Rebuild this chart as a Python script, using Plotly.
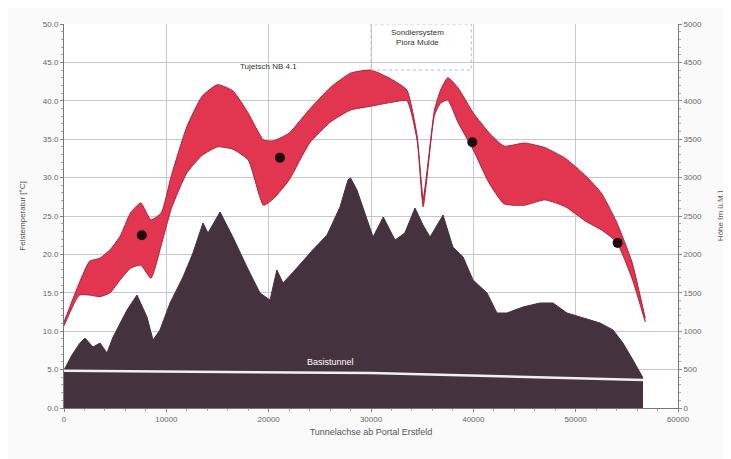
import plotly.graph_objects as go

# Tunnel chainage [m] for the temperature band
band_x = [0, 1500, 2500, 3500, 4500, 5500, 6500, 7500, 8500, 9500, 10500, 12000, 13500,
          15000, 16500, 18000, 19500, 20500, 22000, 24000, 26000, 28000, 30000, 32000,
          33500, 34500, 35100, 35600, 36200, 36800, 37500, 38500, 40000, 41500, 43000,
          45000, 47000, 49000, 51000, 52500, 54000, 55500, 56800]
temp_upper = [11.2, 16.3, 19.1, 19.5, 20.6, 22.4, 25.4, 26.7, 24.5, 25.4, 30.3, 36.6, 40.6,
              42.1, 41.3, 38.4, 34.9, 34.8, 35.8, 38.9, 41.7, 43.6, 44.0, 42.8,
              41.4, 35.5, 27.3, 32.3, 38.8, 41.4, 43.0, 41.7, 38.4, 35.9, 34.1,
              34.5, 33.9, 32.5, 30.2, 28.0, 24.2, 19.0, 11.7]
temp_lower = [10.7, 14.7, 14.7, 14.5, 15.0, 16.7, 18.2, 18.6, 16.9, 21.2, 26.0, 30.6, 32.9,
              34.0, 33.7, 32.3, 26.4, 27.3, 29.7, 34.5, 37.2, 38.8, 39.3, 39.8,
              40.0, 34.9, 26.2, 31.6, 38.1, 39.7, 40.1, 37.2, 33.6, 29.4, 26.6,
              26.4, 27.1, 26.2, 24.3, 23.2, 21.6, 16.9, 11.2]

# Measured rock temperatures
meas_x = [7600, 21100, 39900, 54100]
meas_t = [22.5, 32.6, 34.6, 21.5]

# Terrain profile above the tunnel axis [m a.s.l.]
terrain_x = [0, 780, 1560, 2050, 2830, 3520, 4200, 4790, 6160, 7130, 8110, 8700, 9380,
             10360, 11630, 12600, 13580, 14070, 15250, 16500, 17880, 19150, 20130, 20800,
             21400, 22400, 24300, 25700, 26970, 27750, 28000, 28630, 29200, 30200, 31200,
             32350, 33300, 34300, 35080, 35770, 37040, 38000, 39000, 39970, 41340, 42310,
             43290, 44850, 46500, 47790, 49150, 50420, 52380, 53650, 54620, 55600, 56580]
terrain_h = [495, 690, 846, 911, 794, 846, 716, 924, 1276, 1471, 1185, 885, 1016,
             1367, 1706, 2018, 2409, 2279, 2552, 2226, 1836, 1497, 1406, 1797,
             1628, 1771, 2057, 2252, 2617, 2969, 2995, 2838, 2617, 2226, 2487,
             2187, 2278, 2604, 2383, 2226, 2513, 2096, 1966, 1667, 1497, 1237,
             1237, 1315, 1367, 1367, 1237, 1185, 1107, 1016, 846, 625, 391]

# Base tunnel axis
tunnel_x = [0, 30000, 56600]
tunnel_h = [485, 455, 365]

x_ticks = [0, 10000, 20000, 30000, 40000, 50000, 60000]
t_ticks = [0, 5, 10, 15, 20, 25, 30, 35, 40, 45, 50]
t_tick_text = ["0.0", "5.0", "10.0", "15.0", "20.0", "25.0", "30.0", "35.0", "40.0", "45.0", "50.0"]
h_ticks = [0, 500, 1000, 1500, 2000, 2500, 3000, 3500, 4000, 4500, 5000]

RED = "#e2354f"
EDGE = "#a8233c"
TERRAIN = "#45323f"
FONT = "Liberation Sans"

fig = go.Figure()

fig.add_trace(go.Scatter(x=terrain_x, y=terrain_h, mode="lines", fill="tozeroy",
                         fillcolor=TERRAIN, line=dict(color=TERRAIN, width=1),
                         yaxis="y", hoverinfo="skip", showlegend=False))
fig.add_trace(go.Scatter(x=tunnel_x, y=tunnel_h, mode="lines",
                         line=dict(color="#f2eef0", width=2.5),
                         yaxis="y", showlegend=False))

fig.add_trace(go.Scatter(x=band_x, y=temp_upper, mode="lines",
                         line=dict(color=EDGE, width=1, shape="spline", smoothing=0.5),
                         yaxis="y2", showlegend=False))
fig.add_trace(go.Scatter(x=band_x, y=temp_lower, mode="lines", fill="tonexty", fillcolor=RED,
                         line=dict(color=EDGE, width=1, shape="spline", smoothing=0.5),
                         yaxis="y2", showlegend=False))
fig.add_trace(go.Scatter(x=meas_x, y=meas_t, mode="markers",
                         marker=dict(color="#1c0c12", size=10), yaxis="y2", showlegend=False))

fig.update_layout(
    width=731, height=459,
    margin=dict(l=56, r=61, t=16, b=59),
    paper_bgcolor="#fbfafa", plot_bgcolor="white",
    font=dict(family=FONT, size=8, color="#666"),
    xaxis=dict(range=[0, 60000], tickvals=x_ticks, ticktext=[str(v) for v in x_ticks],
               automargin=False,
               showgrid=True, gridcolor="#c8c8c8", gridwidth=1, zeroline=False,
               showline=True, linecolor="#777", ticks="outside", ticklen=3, tickcolor="#888",
               minor=dict(ticks="outside", ticklen=2, tickcolor="#aaa", dtick=2000),
               title=dict(text="Tunnelachse ab Portal Erstfeld", font=dict(size=9, color="#555"), standoff=6)),
    yaxis=dict(range=[0, 5000], tickvals=h_ticks, side="right", automargin=False,
               showgrid=True, gridcolor="#c8c8c8", zeroline=False,
               showline=True, linecolor="#777", ticks="outside", ticklen=3, tickcolor="#888",
               minor=dict(ticks="outside", ticklen=2, tickcolor="#aaa", dtick=100),
               title=dict(text="Höhe [m ü.M.]", font=dict(size=8, color="#555"), standoff=16)),
    yaxis2=dict(range=[0, 50], tickvals=t_ticks, ticktext=t_tick_text, side="left",
                overlaying="y", showgrid=False, zeroline=False, automargin=False,
                showline=True, linecolor="#777", ticks="outside", ticklen=3, tickcolor="#888",
                minor=dict(ticks="outside", ticklen=2, tickcolor="#aaa", dtick=1),
                title=dict(text="Felstemperatur [°C]", font=dict(size=8, color="#555"), standoff=16)),
)

fig.add_annotation(x=20000, y=44.5, xref="x", yref="y2", text="Tujetsch NB 4.1",
                   showarrow=False, font=dict(size=8, color="#333"))
fig.add_annotation(x=34500, y=48.2, xref="x", yref="y2", text="Sondiersystem<br>Piora Mulde",
                   showarrow=False, font=dict(size=8, color="#333"))
fig.add_annotation(x=26000, y=600, xref="x", yref="y", text="Basistunnel",
                   showarrow=False, font=dict(size=9, color="white"))
fig.add_shape(type="rect", x0=30000, x1=39800, y0=44, y1=50, xref="x", yref="y2",
              line=dict(color="#bbb", width=1, dash="dot"))

fig.write_html("out.html")
